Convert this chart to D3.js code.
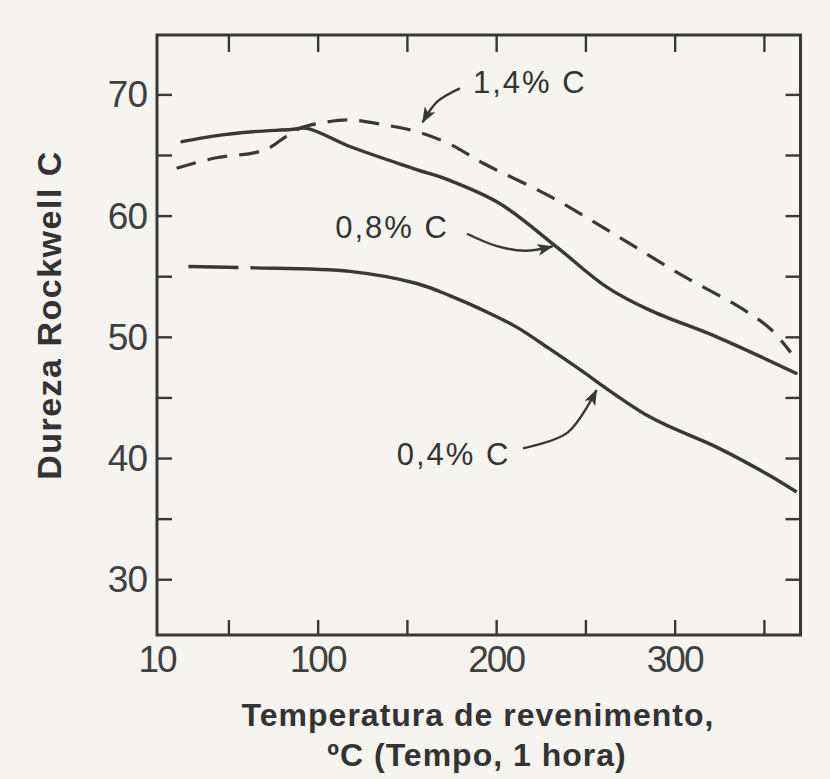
<!DOCTYPE html>
<html><head><meta charset="utf-8">
<script src="https://cdn.jsdelivr.net/npm/d3@7"></script>
<style>
html,body{margin:0;padding:0;background:#f5f4f1;}
svg{display:block;}
</style></head><body>
<svg id="chart" width="830" height="779"></svg>
<script>
// Tempering temperature (°C) vs. Rockwell C hardness, three plain-carbon steels
const temp14 = [21, 42.5, 65, 73, 82, 90, 104, 118, 137, 156, 174, 193, 230, 268, 305, 338, 354, 365];
const hrc14  = [63.9, 64.75, 65.2, 65.6, 66.5, 67.2, 67.7, 67.9, 67.5, 66.9, 65.9, 64.3, 61.6, 58.3, 55.0, 52.3, 50.6, 48.7];

const temp08 = [24, 43.5, 62, 85, 94, 118, 155.5, 174, 202, 234, 262, 286, 323.5, 368];
const hrc08  = [66.1, 66.6, 66.9, 67.1, 67.2, 65.7, 63.8, 62.9, 61.0, 57.4, 54.1, 52.2, 50.0, 47.0];

const temp04 = [27.6, 62, 118, 155.5, 174, 192.6, 211.5, 230, 244, 286, 323.5, 351.5, 368.3];
const hrc04  = [55.8, 55.7, 55.4, 54.4, 53.4, 52.2, 50.8, 49.0, 47.6, 43.4, 40.9, 38.7, 37.2];

const xTickValues = [50, 100, 150, 200, 250, 300, 350];
const xTickLabels = [10, 100, 200, 300];
const yTickValues = [30, 35, 40, 45, 50, 55, 60, 65, 70];
const yTickLabels = [30, 40, 50, 60, 70];

const seriesNames = ["1,4% C", "0,8% C", "0,4% C"];
// label anchor (°C, HRC) and leader arrow path (°C, HRC) for each curve
const labelPos = [[187, 70.1], [109.8, 58.15], [144.3, 39.4]];
const arrowPaths = [
  [[179.7, 70.5], [167, 69.4], [158.8, 67.7]],
  [[183.7, 58.5], [200, 57.5], [216, 57.1], [231.5, 57.45]],
  [[215, 40.8], [240, 42.1], [256.2, 45.6]]
];

const xTitle1 = "Temperatura de revenimento,";
const xTitle2 = "ºC (Tempo, 1 hora)";
const yTitle = "Dureza Rockwell C";

const ink = "#383838";
const svg = d3.select("#chart");

const x = d3.scaleLinear().domain([10, 370.5]).range([157, 800.5]);
const y = d3.scaleLinear().domain([25.4, 74.9]).range([635, 35]);

const [x0, x1] = x.range();
const [y0, y1] = y.range();

// inward ticks on all four sides
function styleAxis(g) {
  g.select(".domain").remove();
  g.selectAll(".tick line").attr("stroke", ink).attr("stroke-width", 2.4);
  g.selectAll(".tick text").remove();
}
svg.append("g").attr("transform", `translate(0,${y0})`)
  .call(d3.axisBottom(x).tickValues(xTickValues).tickSize(-15)).call(styleAxis);
svg.append("g").attr("transform", `translate(0,${y1})`)
  .call(d3.axisTop(x).tickValues(xTickValues).tickSize(-17)).call(styleAxis);
svg.append("g").attr("transform", `translate(${x0},0)`)
  .call(d3.axisLeft(y).tickValues(yTickValues).tickSize(-15)).call(styleAxis);
svg.append("g").attr("transform", `translate(${x1},0)`)
  .call(d3.axisRight(y).tickValues(yTickValues).tickSize(-15)).call(styleAxis);

// frame
svg.append("rect")
  .attr("x", x0).attr("y", y1).attr("width", x1 - x0).attr("height", y0 - y1)
  .attr("fill", "none").attr("stroke", ink).attr("stroke-width", 3);

// tick labels
const tickFont = "'Liberation Sans', Arial, sans-serif";
svg.append("g").selectAll("text").data(xTickLabels).join("text")
  .attr("x", d => x(d)).attr("y", 672)
  .attr("text-anchor", "middle")
  .attr("font-family", tickFont).attr("font-size", 37).attr("letter-spacing", -2)
  .attr("fill", "#404040").text(d => d);
svg.append("g").selectAll("text").data(yTickLabels).join("text")
  .attr("x", 147).attr("y", d => y(d) + 13)
  .attr("text-anchor", "end")
  .attr("font-family", tickFont).attr("font-size", 37).attr("letter-spacing", -1)
  .attr("fill", "#404040").text(d => d);

// curves
const line = d3.line().x(d => x(d[0])).y(d => y(d[1])).curve(d3.curveCatmullRom.alpha(0.5));
const zip = (a, b) => a.map((v, i) => [v, b[i]]);

svg.append("path").datum(zip(temp14, hrc14))
  .attr("d", line).attr("fill", "none").attr("stroke", ink)
  .attr("stroke-width", 3.2).attr("stroke-dasharray", "20,12");
svg.append("path").datum(zip(temp08, hrc08))
  .attr("d", line).attr("fill", "none").attr("stroke", ink)
  .attr("stroke-width", 3.4).attr("stroke-linecap", "round");
svg.append("path").datum(zip(temp04, hrc04))
  .attr("d", line).attr("fill", "none").attr("stroke", ink)
  .attr("stroke-width", 3.4).attr("stroke-dasharray", "50,12,3000");

// arrowheads
svg.append("defs").append("marker")
  .attr("id", "head").attr("viewBox", "0 0 16 12")
  .attr("refX", 15).attr("refY", 6)
  .attr("markerWidth", 16).attr("markerHeight", 12)
  .attr("markerUnits", "userSpaceOnUse").attr("orient", "auto")
  .append("path").attr("d", "M0,0 L16,6 L0,12 L4,6 Z").attr("fill", ink);

const arrowLine = d3.line().x(d => x(d[0])).y(d => y(d[1])).curve(d3.curveCatmullRom.alpha(0.5));
svg.append("g").selectAll("path").data(arrowPaths).join("path")
  .attr("d", arrowLine).attr("fill", "none").attr("stroke", ink)
  .attr("stroke-width", 2.4).attr("marker-end", "url(#head)");

// series labels
svg.append("g").selectAll("text").data(seriesNames).join("text")
  .attr("x", (d, i) => x(labelPos[i][0])).attr("y", (d, i) => y(labelPos[i][1]))
  .attr("font-family", tickFont).attr("font-size", 31).attr("letter-spacing", 2)
  .attr("fill", "#333").text(d => d);

// axis titles
const titleFont = "'Liberation Sans', Arial, sans-serif";
svg.append("text").attr("x", 478).attr("y", 726).attr("text-anchor", "middle")
  .attr("font-family", titleFont).attr("font-weight", "bold").attr("font-size", 32)
  .attr("letter-spacing", 1).attr("fill", "#333").text(xTitle1);
svg.append("text").attr("x", 477).attr("y", 766).attr("text-anchor", "middle")
  .attr("font-family", titleFont).attr("font-weight", "bold").attr("font-size", 32)
  .attr("letter-spacing", 1).attr("fill", "#333").text(xTitle2);
svg.append("text")
  .attr("transform", "translate(61,315) rotate(-90)")
  .attr("text-anchor", "middle")
  .attr("font-family", titleFont).attr("font-weight", "bold").attr("font-size", 34)
  .attr("letter-spacing", 1.5).attr("fill", "#333").text(yTitle);
</script>
</body></html>
